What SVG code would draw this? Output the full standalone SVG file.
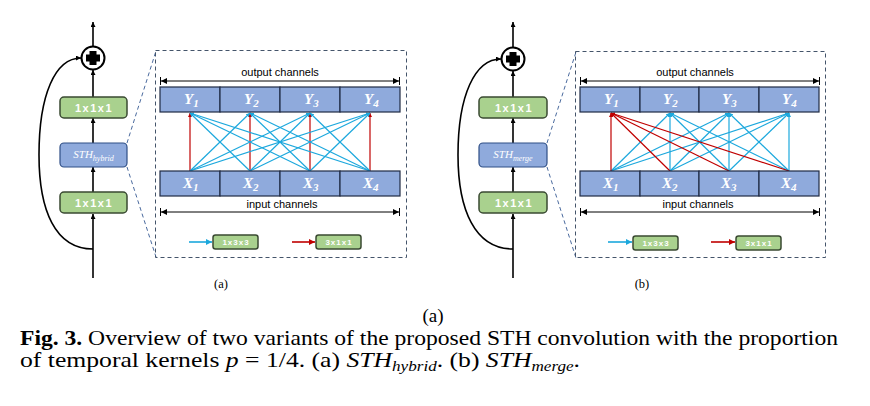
<svg xmlns="http://www.w3.org/2000/svg" width="870" height="406" viewBox="0 0 870 406">
<defs>
<style>
.main{fill:none;stroke:#000;stroke-width:1.6}
.green{fill:#A9D18E;stroke:#3A4A32;stroke-width:1.5}
.bluebox{fill:#8FAADC;stroke:#2F4F86;stroke-width:1.2}
.cell{fill:#8FAADC;stroke:#1F2A44;stroke-width:1.2}
.gtxt{font-family:"Liberation Sans",Arial,sans-serif;font-weight:bold;fill:#fff;font-size:11px;letter-spacing:1.5px;text-anchor:middle}
.ltxt{font-family:"Liberation Sans",Arial,sans-serif;font-weight:bold;fill:#fff;font-size:8px;letter-spacing:1px;text-anchor:middle}
.sth{font-family:"Liberation Serif","DejaVu Serif",serif;font-style:italic;fill:#fff;font-size:11px}
.var{font-family:"Liberation Serif","DejaVu Serif",serif;font-style:italic;font-weight:bold;fill:#fff;font-size:15px}
.lab{font-family:"Liberation Sans",Arial,sans-serif;font-size:11px;fill:#000;text-anchor:middle}
.dash{fill:none;stroke:#44546A;stroke-width:1;stroke-dasharray:4,3}
.dashl{fill:none;stroke:#4A6A9E;stroke-width:1;stroke-dasharray:4,3}
.bl{stroke:#1CA8DD;stroke-width:1.2;fill:none}
.rd{stroke:#C00000;stroke-width:1.2;fill:none}
.span{stroke:#000;stroke-width:1;fill:none}
.cap{font-family:"Liberation Serif","Times New Roman",serif;fill:#000}
</style>
<marker id="ah" viewBox="0 0 6 6" refX="6" refY="3" markerWidth="5" markerHeight="5" markerUnits="userSpaceOnUse" orient="auto"><path d="M0,0 L6,3 L0,6 z" fill="#000"/></marker>
<marker id="ahs" viewBox="0 0 6 6" refX="6" refY="3" markerWidth="6" markerHeight="6" markerUnits="userSpaceOnUse" orient="auto-start-reverse"><path d="M0,0 L6,3 L0,6 z" fill="#000"/></marker>
<marker id="ahb" viewBox="0 0 6 6" refX="6" refY="3" markerWidth="4" markerHeight="4" markerUnits="userSpaceOnUse" orient="auto"><path d="M0,0 L6,3 L0,6 z" fill="#1CA8DD"/></marker>
<marker id="ahr" viewBox="0 0 6 6" refX="6" refY="3" markerWidth="4" markerHeight="4" markerUnits="userSpaceOnUse" orient="auto"><path d="M0,0 L6,3 L0,6 z" fill="#C00000"/></marker>
<marker id="ahbL" viewBox="0 0 6 6" refX="6" refY="3" markerWidth="6" markerHeight="6" markerUnits="userSpaceOnUse" orient="auto"><path d="M0,0 L6,3 L0,6 z" fill="#1CA8DD"/></marker>
<marker id="ahrL" viewBox="0 0 6 6" refX="6" refY="3" markerWidth="6" markerHeight="6" markerUnits="userSpaceOnUse" orient="auto"><path d="M0,0 L6,3 L0,6 z" fill="#C00000"/></marker>
</defs>
<rect width="870" height="406" fill="#fff"/>

<!-- ===== Panel (a) ===== -->
<g id="a-connectors">
<line class="main" x1="93" y1="278" x2="93" y2="214" marker-end="url(#ah)"/>
<line class="main" x1="93" y1="192" x2="93" y2="167" marker-end="url(#ah)"/>
<line class="main" x1="93" y1="143" x2="93" y2="118" marker-end="url(#ah)"/>
<line class="main" x1="93" y1="97" x2="93" y2="70" marker-end="url(#ah)"/>
<line class="main" x1="93" y1="46" x2="93" y2="22" marker-end="url(#ah)"/>
<path class="main" d="M93,249 C55,249 39,210 39,155 C39,95 55,58 81,58" marker-end="url(#ah)"/>
<line class="dashl" x1="127" y1="143" x2="156" y2="51"/>
<line class="dashl" x1="127" y1="167" x2="156" y2="257"/>
<g>
<line class="rd" x1="190" y1="171" x2="190" y2="113" marker-end="url(#ahr)"/>
<line class="rd" x1="250" y1="171" x2="250" y2="113" marker-end="url(#ahr)"/>
<line class="rd" x1="310" y1="171" x2="310" y2="113" marker-end="url(#ahr)"/>
<line class="rd" x1="370" y1="171" x2="370" y2="113" marker-end="url(#ahr)"/>
<line class="bl" x1="250" y1="171" x2="190" y2="113" marker-end="url(#ahb)"/>
<line class="bl" x1="310" y1="171" x2="190" y2="113" marker-end="url(#ahb)"/>
<line class="bl" x1="370" y1="171" x2="190" y2="113" marker-end="url(#ahb)"/>
<line class="bl" x1="190" y1="171" x2="250" y2="113" marker-end="url(#ahb)"/>
<line class="bl" x1="310" y1="171" x2="250" y2="113" marker-end="url(#ahb)"/>
<line class="bl" x1="370" y1="171" x2="250" y2="113" marker-end="url(#ahb)"/>
<line class="bl" x1="190" y1="171" x2="310" y2="113" marker-end="url(#ahb)"/>
<line class="bl" x1="250" y1="171" x2="310" y2="113" marker-end="url(#ahb)"/>
<line class="bl" x1="370" y1="171" x2="310" y2="113" marker-end="url(#ahb)"/>
<line class="bl" x1="190" y1="171" x2="370" y2="113" marker-end="url(#ahb)"/>
<line class="bl" x1="250" y1="171" x2="370" y2="113" marker-end="url(#ahb)"/>
<line class="bl" x1="310" y1="171" x2="370" y2="113" marker-end="url(#ahb)"/>
</g>
<line class="span" x1="161" y1="81" x2="399" y2="81" marker-start="url(#ahs)" marker-end="url(#ahs)"/>
<line class="span" x1="160.5" y1="77" x2="160.5" y2="85"/>
<line class="span" x1="399.5" y1="77" x2="399.5" y2="85"/>
<line class="span" x1="161" y1="212" x2="399" y2="212" marker-start="url(#ahs)" marker-end="url(#ahs)"/>
<line class="span" x1="160.5" y1="208" x2="160.5" y2="216"/>
<line class="span" x1="399.5" y1="208" x2="399.5" y2="216"/>
<line stroke="#1CA8DD" stroke-width="1.6" x1="189" y1="242" x2="212" y2="242" marker-end="url(#ahbL)"/>
<line stroke="#C00000" stroke-width="1.6" x1="292" y1="242" x2="315" y2="242" marker-end="url(#ahrL)"/>
</g>

<g id="a-add"><circle cx="93" cy="58" r="11.5" fill="#fff" stroke="#000" stroke-width="2"/><path d="M89.5,51 h7 v3.5 h3.5 v7 h-3.5 v3.5 h-7 v-3.5 h-3.5 v-7 h3.5 z" fill="#000"/></g>
<g id="a-conv-top"><rect class="green" x="60" y="97" width="67" height="21" rx="4"/><text class="gtxt" x="94" y="111.5">1x1x1</text></g>
<g id="a-sth"><rect class="bluebox" x="60" y="143" width="67" height="24" rx="4"/><text class="sth" x="93.5" y="157.5" text-anchor="middle">STH<tspan font-size="8" dy="3">hybrid</tspan></text></g>
<g id="a-conv-bottom"><rect class="green" x="60" y="192" width="67" height="21" rx="4"/><text class="gtxt" x="94" y="206.5">1x1x1</text></g>
<g id="a-panel"><rect class="dash" x="155.5" y="50.5" width="251" height="207"/>
<text class="lab" x="280" y="76">output channels</text>
<text class="lab" x="282" y="208">input channels</text>
<text class="cap" x="221" y="288" font-size="12.5" text-anchor="middle">(a)</text>
</g>
<g id="a-Y">
<rect class="cell" x="160" y="87" width="60" height="25"/><rect class="cell" x="220" y="87" width="60" height="25"/><rect class="cell" x="280" y="87" width="60" height="25"/><rect class="cell" x="340" y="87" width="60" height="25"/>
<text class="var" x="184" y="104">Y<tspan font-size="11" dy="3">1</tspan></text>
<text class="var" x="244" y="104">Y<tspan font-size="11" dy="3">2</tspan></text>
<text class="var" x="304" y="104">Y<tspan font-size="11" dy="3">3</tspan></text>
<text class="var" x="364" y="104">Y<tspan font-size="11" dy="3">4</tspan></text>
</g>
<g id="a-X">
<rect class="cell" x="160" y="171" width="60" height="25"/><rect class="cell" x="220" y="171" width="60" height="25"/><rect class="cell" x="280" y="171" width="60" height="25"/><rect class="cell" x="340" y="171" width="60" height="25"/>
<text class="var" x="183" y="188">X<tspan font-size="11" dy="3">1</tspan></text>
<text class="var" x="243" y="188">X<tspan font-size="11" dy="3">2</tspan></text>
<text class="var" x="303" y="188">X<tspan font-size="11" dy="3">3</tspan></text>
<text class="var" x="363" y="188">X<tspan font-size="11" dy="3">4</tspan></text>
</g>
<g id="a-legend-133"><rect class="green" x="213" y="235" width="45" height="14" rx="2.5"/><text class="ltxt" x="236" y="245">1x3x3</text></g>
<g id="a-legend-311"><rect class="green" x="316" y="235" width="45" height="14" rx="2.5"/><text class="ltxt" x="339" y="245">3x1x1</text></g>

<!-- ===== Panel (b) ===== -->
<g id="b-connectors">
<line class="main" x1="513" y1="278" x2="513" y2="214" marker-end="url(#ah)"/>
<line class="main" x1="513" y1="192" x2="513" y2="167" marker-end="url(#ah)"/>
<line class="main" x1="513" y1="143" x2="513" y2="118" marker-end="url(#ah)"/>
<line class="main" x1="513" y1="97" x2="513" y2="71" marker-end="url(#ah)"/>
<line class="main" x1="513" y1="47" x2="513" y2="22" marker-end="url(#ah)"/>
<path class="main" d="M513,249 C475,249 458,210 458,155 C458,95 475,59 501,59" marker-end="url(#ah)"/>
<line class="dashl" x1="547" y1="143" x2="576" y2="52"/>
<line class="dashl" x1="547" y1="167" x2="576" y2="258"/>
<g>
<line class="bl" x1="611" y1="171" x2="670" y2="113" marker-end="url(#ahb)"/>
<line class="bl" x1="670" y1="171" x2="670" y2="113" marker-end="url(#ahb)"/>
<line class="bl" x1="729" y1="171" x2="670" y2="113" marker-end="url(#ahb)"/>
<line class="bl" x1="789" y1="171" x2="670" y2="113" marker-end="url(#ahb)"/>
<line class="bl" x1="611" y1="171" x2="729" y2="113" marker-end="url(#ahb)"/>
<line class="bl" x1="670" y1="171" x2="729" y2="113" marker-end="url(#ahb)"/>
<line class="bl" x1="729" y1="171" x2="729" y2="113" marker-end="url(#ahb)"/>
<line class="bl" x1="789" y1="171" x2="729" y2="113" marker-end="url(#ahb)"/>
<line class="bl" x1="611" y1="171" x2="789" y2="113" marker-end="url(#ahb)"/>
<line class="bl" x1="670" y1="171" x2="789" y2="113" marker-end="url(#ahb)"/>
<line class="bl" x1="729" y1="171" x2="789" y2="113" marker-end="url(#ahb)"/>
<line class="bl" x1="789" y1="171" x2="789" y2="113" marker-end="url(#ahb)"/>
<line class="rd" x1="611" y1="171" x2="611" y2="113" marker-end="url(#ahr)"/>
<line class="rd" x1="670" y1="171" x2="611" y2="113" marker-end="url(#ahr)"/>
<line class="rd" x1="729" y1="171" x2="611" y2="113" marker-end="url(#ahr)"/>
<line class="rd" x1="789" y1="171" x2="611" y2="113" marker-end="url(#ahr)"/>
</g>
<line class="span" x1="581" y1="81" x2="819" y2="81" marker-start="url(#ahs)" marker-end="url(#ahs)"/>
<line class="span" x1="580.5" y1="77" x2="580.5" y2="85"/>
<line class="span" x1="819.5" y1="77" x2="819.5" y2="85"/>
<line class="span" x1="581" y1="212" x2="819" y2="212" marker-start="url(#ahs)" marker-end="url(#ahs)"/>
<line class="span" x1="580.5" y1="208" x2="580.5" y2="216"/>
<line class="span" x1="819.5" y1="208" x2="819.5" y2="216"/>
<line stroke="#1CA8DD" stroke-width="1.6" x1="608" y1="242" x2="632" y2="242" marker-end="url(#ahbL)"/>
<line stroke="#C00000" stroke-width="1.6" x1="711" y1="242" x2="735" y2="242" marker-end="url(#ahrL)"/>
</g>

<g id="b-add"><circle cx="513" cy="59" r="11.5" fill="#fff" stroke="#000" stroke-width="2"/><path d="M509.5,52 h7 v3.5 h3.5 v7 h-3.5 v3.5 h-7 v-3.5 h-3.5 v-7 h3.5 z" fill="#000"/></g>
<g id="b-conv-top"><rect class="green" x="479" y="97" width="68" height="21" rx="4"/><text class="gtxt" x="514" y="111.5">1x1x1</text></g>
<g id="b-sth"><rect class="bluebox" x="479" y="143" width="68" height="24" rx="4"/><text class="sth" x="513" y="157.5" text-anchor="middle">STH<tspan font-size="8" dy="3">merge</tspan></text></g>
<g id="b-conv-bottom"><rect class="green" x="479" y="192" width="68" height="21" rx="4"/><text class="gtxt" x="514" y="206.5">1x1x1</text></g>
<g id="b-panel"><rect class="dash" x="575.5" y="51.5" width="250" height="206"/>
<text class="lab" x="695" y="76">output channels</text>
<text class="lab" x="698" y="208">input channels</text>
<text class="cap" x="642" y="288" font-size="12.5" text-anchor="middle">(b)</text>
</g>
<g id="b-Y">
<rect class="cell" x="580" y="87" width="60" height="25"/><rect class="cell" x="640" y="87" width="59" height="25"/><rect class="cell" x="699" y="87" width="60" height="25"/><rect class="cell" x="759" y="87" width="60" height="25"/>
<text class="var" x="604" y="104">Y<tspan font-size="11" dy="3">1</tspan></text>
<text class="var" x="663" y="104">Y<tspan font-size="11" dy="3">2</tspan></text>
<text class="var" x="722" y="104">Y<tspan font-size="11" dy="3">3</tspan></text>
<text class="var" x="782" y="104">Y<tspan font-size="11" dy="3">4</tspan></text>
</g>
<g id="b-X">
<rect class="cell" x="580" y="171" width="60" height="25"/><rect class="cell" x="640" y="171" width="59" height="25"/><rect class="cell" x="699" y="171" width="60" height="25"/><rect class="cell" x="759" y="171" width="60" height="25"/>
<text class="var" x="603" y="188">X<tspan font-size="11" dy="3">1</tspan></text>
<text class="var" x="662" y="188">X<tspan font-size="11" dy="3">2</tspan></text>
<text class="var" x="721" y="188">X<tspan font-size="11" dy="3">3</tspan></text>
<text class="var" x="781" y="188">X<tspan font-size="11" dy="3">4</tspan></text>
</g>
<g id="b-legend-133"><rect class="green" x="633" y="236" width="45" height="14" rx="2.5"/><text class="ltxt" x="656" y="246">1x3x3</text></g>
<g id="b-legend-311"><rect class="green" x="736" y="236" width="45" height="14" rx="2.5"/><text class="ltxt" x="759" y="246">3x1x1</text></g>

<!-- ===== Caption ===== -->
<g id="caption">
<text class="cap" x="433" y="322" font-size="19" text-anchor="middle">(a)</text>
<text class="cap" x="20" y="345" font-size="21" textLength="818" lengthAdjust="spacingAndGlyphs"><tspan font-weight="bold">Fig. 3.</tspan> Overview of two variants of the proposed STH convolution with the proportion</text>
<text class="cap" x="20" y="367" font-size="21" textLength="560" lengthAdjust="spacingAndGlyphs">of temporal kernels <tspan font-style="italic">p</tspan> = 1/4. (a) <tspan font-style="italic">STH</tspan><tspan font-style="italic" font-size="14" dy="4">hybrid</tspan><tspan dy="-4">. (b) </tspan><tspan font-style="italic">STH</tspan><tspan font-style="italic" font-size="14" dy="4">merge</tspan><tspan dy="-4">.</tspan></text>
</g>
</svg>
